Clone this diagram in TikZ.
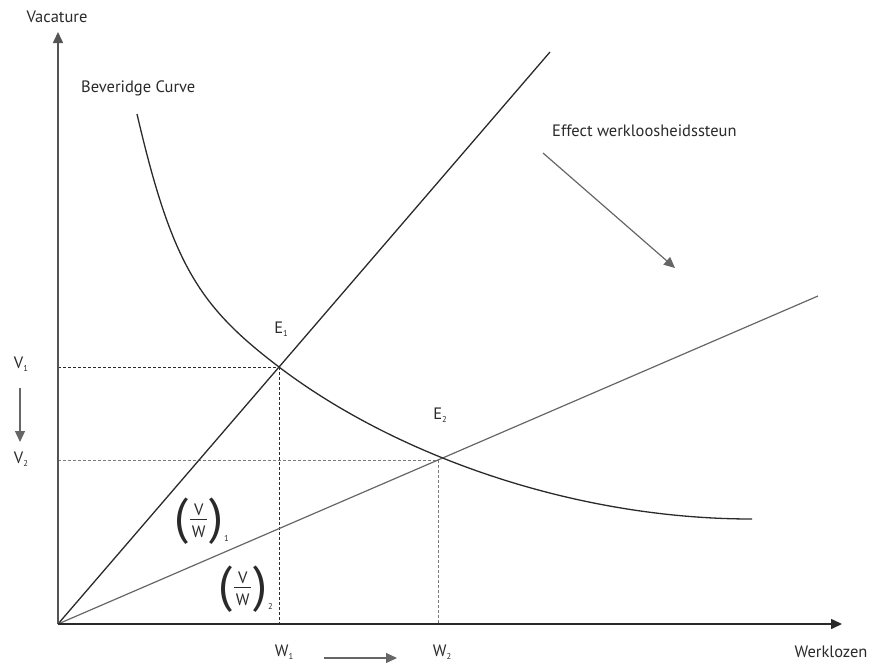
\documentclass[tikz,border=0pt]{standalone}
\usepackage{fontspec}
\setmainfont{PT Sans}
\usetikzlibrary{arrows.meta}
\definecolor{ink}{HTML}{2A2A2A}
\definecolor{axisgray}{HTML}{555555}
\definecolor{midgray}{HTML}{666666}
\definecolor{lightdot}{HTML}{7A7A7A}
\newcommand\lowsub[1]{\raisebox{-3.5pt}{\fontsize{8.5}{8.5}\selectfont #1}}
\newcommand\bigparen[1]{{\fontsize{50}{50}\selectfont #1}}
\newcommand\vwratio[1]{%
  \bigparen{(}\kern2pt%
  \raisebox{-4pt}{\vbox{\hbox to 17pt{\hss V\hss}\kern3.5pt\hrule width 17pt height 1pt\kern5.5pt\hbox to 17pt{\hss W\hss}}}%
  \kern2pt\bigparen{)}\kern1pt\raisebox{-8pt}{\fontsize{8.5}{8.5}\selectfont #1}}
\tikzset{
  lbl/.style={inner sep=0pt, text=ink, font=\fontsize{16.5}{16.5}\selectfont},
  axisline/.style={line width=1.6pt, -{Triangle[length=11pt,width=10pt]}},
  darkdot/.style={ink, line width=1pt, dash pattern=on 3pt off 2pt},
  graydot/.style={lightdot, line width=1pt, dash pattern=on 3pt off 2pt},
  shiftarrow/.style={midgray, line width=1.2pt, -{Triangle[length=11pt,width=10pt]}},
}
\begin{document}
\begin{tikzpicture}[x=1pt,y=-1pt]
\useasboundingbox (0,0) rectangle (873,664);
% key points
\coordinate (O) at (58,624);
\coordinate (Ytop) at (58,32);
\coordinate (Xend) at (842,624);
\coordinate (E1) at (279,367);
\coordinate (E2) at (438,460);
\coordinate (steepEnd) at (550,52);
\coordinate (flatEnd) at (818,296);
\coordinate (V1ax) at (58,367);
\coordinate (V2ax) at (58,460);
\coordinate (W1ax) at (279,624);
\coordinate (W2ax) at (438,624);
\coordinate (Bstart) at (137,114);
\coordinate (Bend) at (752,519);
% dotted guides
\draw[darkdot] (V1ax) -- (E1);
\draw[darkdot] (E1) -- (W1ax);
\draw[graydot] (V2ax) -- (E2);
\draw[graydot] (E2) -- (W2ax);
% rays
\draw[ink, line width=1.3pt] (O) -- (steepEnd);
\draw[midgray, line width=1.2pt] (O) -- (flatEnd);
% Beveridge curve
\draw[ink, line width=1.3pt] (Bstart) .. controls (172,264.5) and (199,306.2) .. (E1)
   .. controls (394,454.4) and (572,519) .. (Bend);
% axes
\draw[axisline, axisgray] (O) -- (Ytop);
\draw[axisline, ink] (O) -- (Xend);
% axis labels
\node[lbl] (vac) at (57,17) {Vacature};
\node[lbl] (wkl) at (831,652) {Werklozen};
\node[lbl, anchor=west] (bev) at (81,88) {Beveridge Curve};
\node[lbl, anchor=west] (eff) at (552,131) {Effect werkloosheidssteun};
% point labels
\node[lbl] (E1l) at (281,329) {E\lowsub{1}};
\node[lbl] (E2l) at (440,415) {E\lowsub{2}};
\node[lbl] (V1l) at (21,364) {V\lowsub{1}};
\node[lbl] (V2l) at (21,459) {V\lowsub{2}};
\node[lbl] (W1l) at (284,652) {W\lowsub{1}};
\node[lbl] (W2l) at (442,652) {W\lowsub{2}};
% shift arrows
\coordinate (va) at (20,388);
\coordinate (vb) at (20,442);
\draw[shiftarrow] (va) -- (vb);
\coordinate (wa) at (324,658);
\coordinate (wb) at (397,658);
\draw[shiftarrow] (wa) -- (wb);
\coordinate (ea) at (543,153);
\coordinate (eb) at (675,268);
\draw[shiftarrow] (ea) -- (eb);
% ratio labels
\node[lbl, anchor=base west] (f1) at (174,533) {\vwratio{1}};
\node[lbl, anchor=base west] (f2) at (218,601) {\vwratio{2}};
\end{tikzpicture}
\end{document}
